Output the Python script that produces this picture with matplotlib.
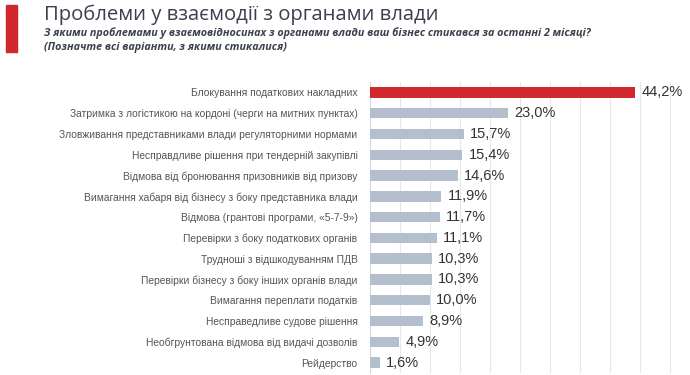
import matplotlib.pyplot as plt
from matplotlib.patches import Rectangle

categories = [
    "Блокування податкових накладних",
    "Затримка з логістикою на кордоні (черги на митних пунктах)",
    "Зловживання представниками влади регуляторними нормами",
    "Несправдливе рішення при тендерній закупівлі",
    "Відмова від бронювання призовників від призову",
    "Вимагання хабаря від бізнесу з боку представника влади",
    "Відмова (грантові програми, «5-7-9»)",
    "Перевірки з боку податкових органів",
    "Трудноші з відшкодуванням ПДВ",
    "Перевірки бізнесу з боку інших органів влади",
    "Вимагання переплати податків",
    "Несправедливе судове рішення",
    "Необгрунтована відмова від видачі дозволів",
    "Рейдерство",
]
values = [44.2, 23.0, 15.7, 15.4, 14.6, 11.9, 11.7, 11.1, 10.3, 10.3, 10.0, 8.9, 4.9, 1.6]
value_labels = ["44,2%", "23,0%", "15,7%", "15,4%", "14,6%", "11,9%", "11,7%",
                "11,1%", "10,3%", "10,3%", "10,0%", "8,9%", "4,9%", "1,6%"]

title = "Проблеми у взаємодії з органами влади"
subtitle = ("З якими проблемами у взаємовідносинах з органами влади ваш бізнес стикався за останні 2 місяці?\n"
            "(Позначте всі варіанти, з якими стикалися)")

RED = "#d0282e"
GREY = "#b3bfcd"

fig = plt.figure(figsize=(6.9, 3.75), dpi=100)
ax = fig.add_axes([370 / 690, 1 - 373 / 375, 315 / 690, 291 / 375])

ypos = list(range(len(categories)))
colors = [RED] + [GREY] * (len(categories) - 1)
ax.barh(ypos, values, height=0.5, color=colors, zorder=3)
for y, v, lab in zip(ypos, values, value_labels):
    ax.text(v + 1.0, y, lab, va="center", ha="left", fontsize=10.5,
            family="Liberation Sans", color="#333333")

ax.set_xlim(0, 52.5)
ax.set_ylim(len(categories) - 0.5, -0.5)
ax.set_xticks(range(0, 55, 5))
ax.xaxis.grid(True, color="#e6e6e6", linewidth=0.8, zorder=0)
ax.tick_params(axis="x", length=0, labelbottom=False)
ax.tick_params(axis="y", length=0, pad=9)
ax.set_yticks(ypos)
ax.set_yticklabels(categories, fontsize=7.4, family="Liberation Sans", color="#555555")
for side in ["top", "right", "bottom"]:
    ax.spines[side].set_visible(False)
ax.spines["left"].set_color("#d9d9d9")

fig.add_artist(Rectangle((6 / 690, 1 - 52 / 375), 11 / 690, 47 / 375,
                         transform=fig.transFigure, color=RED))
fig.text(44 / 690, 1 - 15 / 375, title, fontsize=14.6, family="Open Sans",
         color="#3b404d", va="center", ha="left")
fig.text(44 / 690, 1 - 40 / 375, subtitle, fontsize=7.75, family="Open Sans",
         style="italic", weight="bold", color="#3b404d", va="center", ha="left",
         linespacing=1.4)

fig.savefig("out.png", dpi=100)
